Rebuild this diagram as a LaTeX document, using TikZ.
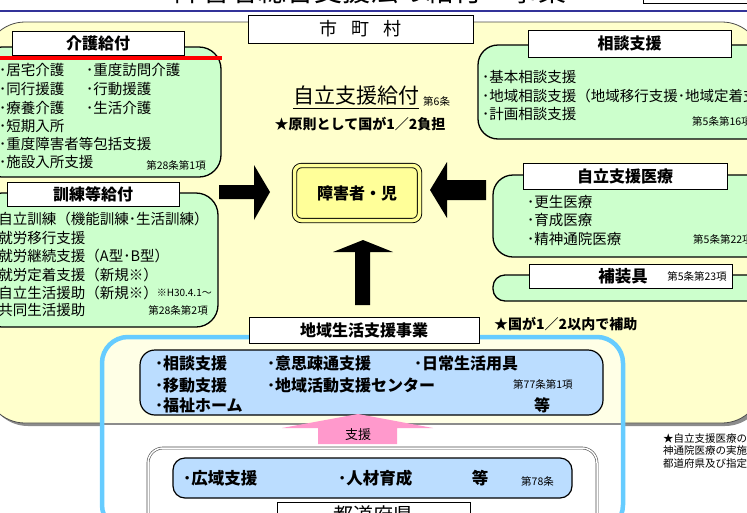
\documentclass[tikz,border=0pt]{standalone}
\usepackage{fontspec}
\setmainfont{Noto Sans CJK JP}
\usetikzlibrary{shapes,arrows}
\newcommand{\jsize}[1]{\fontsize{#1}{#1}\selectfont}
\definecolor{kyellow}{HTML}{FFFFCC}
\definecolor{pyellow}{HTML}{FFFF99}
\definecolor{paleyellow}{HTML}{FFFFE6}
\definecolor{kgreen}{HTML}{CCFFCC}
\definecolor{lblue}{HTML}{BBDDFF}
\definecolor{skyline}{HTML}{66CCFF}
\definecolor{pinkarrow}{HTML}{FF99CC}
\definecolor{navyline}{HTML}{333399}

\begin{document}
\begin{tikzpicture}[x=1pt,y=-1pt,
  lbl/.style={draw=black,fill=white,line width=0.8pt,inner sep=0pt,font=\jsize{16}\bfseries},
  grnbox/.style={draw=black,line width=1.3pt,fill=kgreen,rounded corners=22pt},
  item/.style={anchor=west,inner sep=0pt,font=\jsize{14.5}},
  bitem/.style={anchor=west,inner sep=0pt,font=\jsize{16}\bfseries},
  jou/.style={inner sep=0pt,font=\jsize{10.5}}]

  \clip (0,0) rectangle (747,512);

% title (cut at the top)
  \node[anchor=base,inner sep=0pt,font=\jsize{28}] (title) at (370,1) {障害者総合支援法の給付・事業};
  \draw[line width=0.6pt] (643,-20) rectangle (770,3);
  \draw[navyline,line width=2pt] (0,11) -- (747,11);

% shichouson area
  \fill[black!45,rounded corners=40pt] (-12,26) rectangle (765,426);
  \draw[fill=kyellow,draw=black!70,line width=0.8pt,rounded corners=40pt] (-15,22) rectangle (762,423);
  \node[lbl,font=\jsize{18}\mdseries,minimum width=225pt,minimum height=28pt] (shi) at (360.5,29) {市\hspace{14pt}町\hspace{14pt}村};

% kaigo kyufu
  \draw[grnbox] (-20,47) rectangle (221,177);
  \node[lbl,minimum width=172pt,minimum height=24pt] (kaigo) at (98,43) {介護給付};
  \draw[red,line width=4pt] (-2,57.5) -- (222,57.5);
  \foreach \t/\y [count=\i] in {･居宅介護/70,･同行援護/89,･療養介護/108,･短期入所/126,･重度障害者等包括支援/144,･施設入所支援/162}
    \node[item] (kg\i) at (-1,\y) {\t};
  \foreach \t/\y [count=\i] in {･重度訪問介護/70,･行動援護/89,･生活介護/108}
    \node[item] (kgb\i) at (86,\y) {\t};
  \node[jou,anchor=east] (kgjou) at (206,165) {第28条第1項};

% kunren tou kyufu
  \draw[grnbox] (-20,193) rectangle (218,327);
  \node[lbl,minimum width=172pt,minimum height=24pt] (kunren) at (93,194) {訓練等給付};
  \foreach \t/\y [count=\i] in {･自立訓練（機能訓練･生活訓練）/219,･就労移行支援/238,･就労継続支援（A型･B型）/256,･就労定着支援（新規※）/275,･自立生活援助（新規※）/293,･共同生活援助/310}
    \node[item] (kr\i) at (-9,\y) {\t};
  \node[jou,anchor=east,font=\jsize{10}] (krnew) at (212,293) {※H30.4.1～};
  \node[jou,anchor=east] (krjou) at (208,310) {第28条第2項};

% jiritsu shien kyufu
  \node[inner sep=0pt,font=\jsize{21}] (jiritsu) at (356,96) {自立支援給付};
  \draw[line width=0.8pt] ([yshift=-2pt]jiritsu.south west) -- ([yshift=-2pt]jiritsu.south east);
  \node[jou,anchor=west] (jou6) at (423,101) {第6条};
  \node[inner sep=0pt,font=\jsize{14}\bfseries] (kuni) at (360,124) {★原則として国が1／2負担};

% shougaisha
  \node[draw=black,line width=0.9pt,double=pyellow,double distance=3.5pt,fill=pyellow,rounded corners=7pt,
        minimum width=125pt,minimum height=55pt,font=\jsize{16}\bfseries] (person) at (357,193) {障害者・児};

% block arrows
  \fill (219,185) -- (254,185) -- (254,165) -- (270,192) -- (254,220) -- (254,199) -- (219,199) -- cycle;
  \fill (486,180) -- (447,180) -- (447,162) -- (430,190) -- (447,218) -- (447,200) -- (486,200) -- cycle;
  \fill (355,305) -- (355,252) -- (333,252) -- (363,240) -- (393,252) -- (370,252) -- (370,305) -- cycle;

% soudan shien
  \draw[grnbox,rounded corners=20pt] (478,45) rectangle (775,139);
  \node[lbl,minimum width=203pt,minimum height=27pt] (soudan) at (629.5,43.5) {相談支援};
  \foreach \t/\y [count=\i] in {･基本相談支援/77,･地域相談支援（地域移行支援･地域定着支援）/96,･計画相談支援/114}
    \node[item] (sd\i) at (482,\y) {\t};
  \node[jou,anchor=west] (sdjou) at (692,121) {第5条第16項};

% jiritsu shien iryou
  \draw[grnbox,rounded corners=20pt] (493,175) rectangle (775,257);
  \node[lbl,minimum width=204pt,minimum height=26pt] (iryou) at (625,176) {自立支援医療};
  \foreach \t/\y [count=\i] in {･更生医療/202,･育成医療/220,･精神通院医療/239}
    \node[item] (ir\i) at (527,\y) {\t};
  \node[jou,anchor=west] (irjou) at (693,239) {第5条第22項};

% hosougu
  \draw[grnbox,rounded corners=12pt] (493,275) rectangle (775,301);
  \node[lbl,minimum width=203pt,minimum height=24pt] (hosougu) at (630.5,276) {};
  \node[inner sep=0pt,font=\jsize{16.5}\bfseries] (hsgtxt) at (623,276) {補装具};
  \node[jou] (hsgjou) at (697,276) {第5条第23項};

  \node[anchor=west,inner sep=0pt,font=\jsize{14}\bfseries] (hojo) at (494,324) {★国が1／2以内で補助};

% chiiki seikatsu shien jigyou
  \begin{scope}
    \clip[rounded corners=26pt] (102,337) rectangle (623,531);
    \fill[paleyellow] (102,337) rectangle (623,423);
    \fill[white] (102,423) rectangle (623,531);
    \fill[black!45] (102,423) rectangle (623,425);
  \end{scope}
  \draw[skyline,line width=4.5pt,rounded corners=26pt] (102,337) rectangle (623,531);
  \node[lbl,minimum width=230pt,minimum height=26pt] (chiiki) at (364,330) {地域生活支援事業};
  \draw[fill=lblue,line width=1.2pt,rounded corners=15pt] (140,350) rectangle (603,415);
  \foreach \t/\y [count=\i] in {･相談支援/363,･移動支援/385,･福祉ホーム/405}
    \node[bitem] (ck\i) at (155,\y) {\t};
  \node[bitem] (ck4) at (267,363) {･意思疎通支援};
  \node[bitem] (ck5) at (267,385) {･地域活動支援センター};
  \node[bitem] (ck6) at (414,363) {･日常生活用具};
  \node[jou,anchor=west] (ckjou) at (513,384) {第77条第1項};
  \node[inner sep=0pt,font=\jsize{16}\bfseries] (ckto) at (542,405) {等};

% shien arrow
  \fill[pinkarrow] (358,414) -- (433,428) -- (397,428) -- (397,444) -- (318,444) -- (318,428) -- (282,428) -- cycle;
  \node[inner sep=0pt,font=\jsize{13}] (shien) at (358,435) {支援};

% todoufuken
  \draw[black!70,double,double distance=1.5pt,line width=0.6pt,rounded corners=15pt] (148,448) rectangle (597,560);
  \draw[fill=lblue,line width=1.2pt,rounded corners=12pt] (173,458) rectangle (572,498);
  \node[bitem,font=\jsize{16.5}\bfseries] (tf1) at (183,478) {･広域支援};
  \node[bitem,font=\jsize{16.5}\bfseries] (tf2) at (338,478) {･人材育成};
  \node[inner sep=0pt,font=\jsize{16.5}\bfseries] (tfto) at (480,478) {等};
  \node[jou,anchor=west] (tfjou) at (521,481) {第78条};
  \node[lbl,font=\jsize{20}\mdseries,minimum width=193pt,minimum height=26pt] (todo) at (373.5,515) {都道府県};

% note
  \node[anchor=west,inner sep=0pt,align=left,font=\fontsize{10.5}{12.5}\selectfont] (note) at (663,451)
    {★自立支援医療の\\神通院医療の実施\\都道府県及び指定};
\end{tikzpicture}
\end{document}
